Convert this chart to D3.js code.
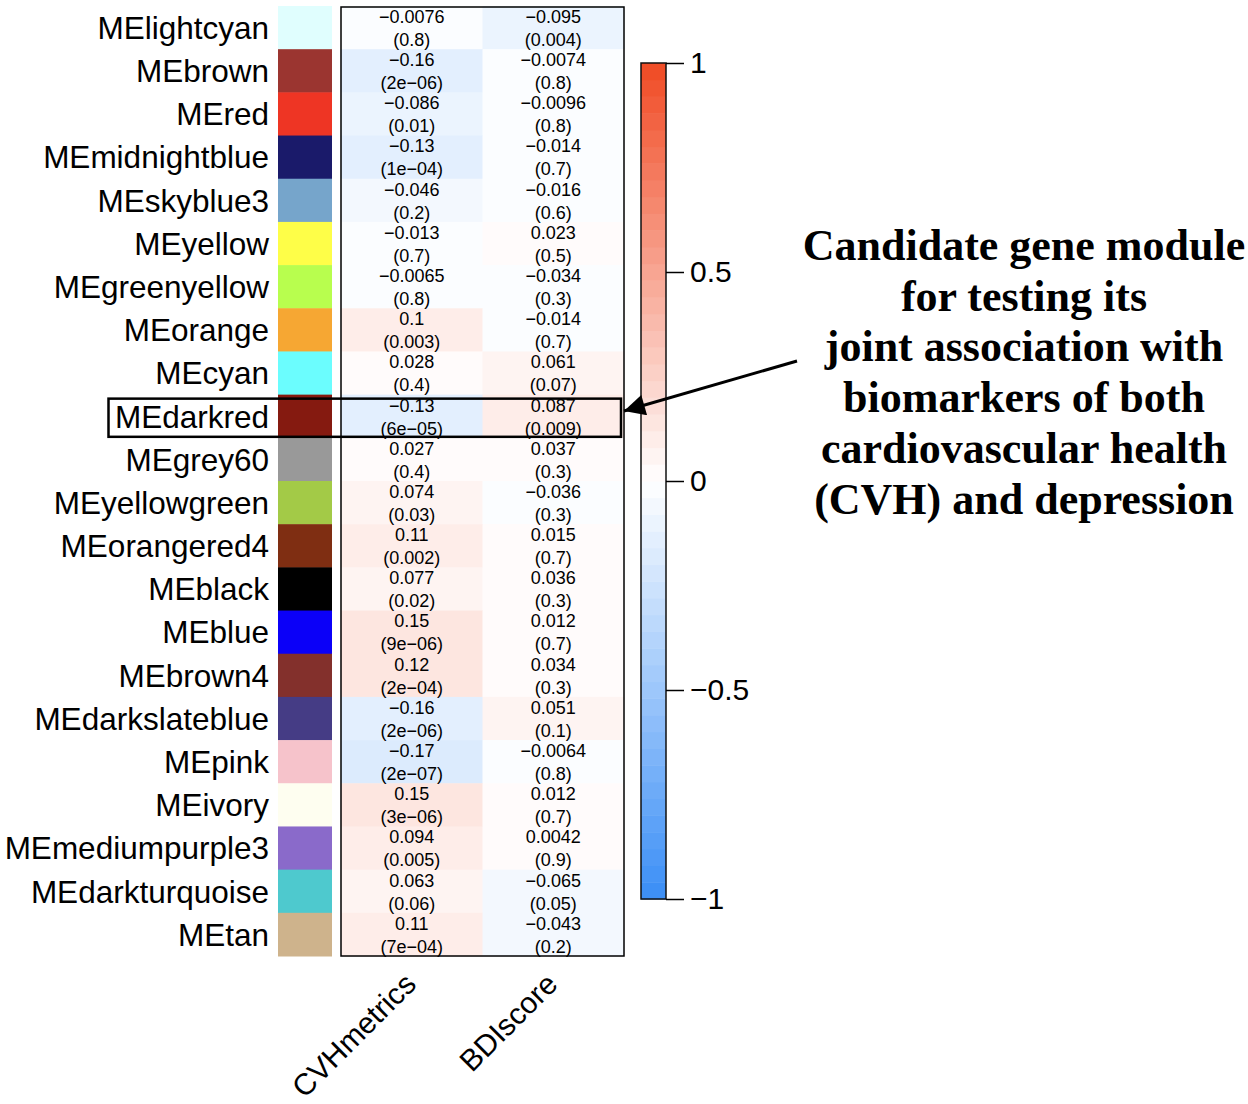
<!DOCTYPE html>
<html>
<head>
<meta charset="utf-8">
<script src="https://cdn.jsdelivr.net/npm/d3@7"></script>
<style>
  body { margin: 0; background: #fff; }
  svg text { font-family: "Liberation Sans", Arial, sans-serif; }
</style>
</head>
<body>
<svg id="drawing_region"></svg>
<script>
// module eigengenes (rows) and their swatch colours
const modules = ["MElightcyan", "MEbrown", "MEred", "MEmidnightblue", "MEskyblue3", "MEyellow",
  "MEgreenyellow", "MEorange", "MEcyan", "MEdarkred", "MEgrey60", "MEyellowgreen", "MEorangered4",
  "MEblack", "MEblue", "MEbrown4", "MEdarkslateblue", "MEpink", "MEivory", "MEmediumpurple3",
  "MEdarkturquoise", "MEtan"];
const moduleColors = ["#e0fefe", "#9b3530", "#ee3524", "#1a1a6a", "#76a5cb", "#fefe48",
  "#b8fe4e", "#f6a733", "#6bfdfe", "#851a10", "#999999", "#a3ca47", "#7f2e12",
  "#000000", "#0b00f8", "#83302c", "#453c85", "#f6c3cb", "#fefef0", "#8a6aca",
  "#4ec9ce", "#ceb38c"];

const traits = ["CVHmetrics", "BDIscore"];

// correlations and p-values per trait
const corCVH = [-0.0076, -0.16, -0.086, -0.13, -0.046, -0.013, -0.0065, 0.1, 0.028, -0.13, 0.027,
  0.074, 0.11, 0.077, 0.15, 0.12, -0.16, -0.17, 0.15, 0.094, 0.063, 0.11];
const pCVH = [0.8, 2e-6, 0.01, 1e-4, 0.2, 0.7, 0.8, 0.003, 0.4, 6e-5, 0.4,
  0.03, 0.002, 0.02, 9e-6, 2e-4, 2e-6, 2e-7, 3e-6, 0.005, 0.06, 7e-4];
const corBDI = [-0.095, -0.0074, -0.0096, -0.014, -0.016, 0.023, -0.034, -0.014, 0.061, 0.087, 0.037,
  -0.036, 0.015, 0.036, 0.012, 0.034, 0.051, -0.0064, 0.012, 0.0042, -0.065, -0.043];
const pBDI = [0.004, 0.8, 0.8, 0.7, 0.6, 0.5, 0.3, 0.7, 0.07, 0.009, 0.3,
  0.3, 0.7, 0.3, 0.7, 0.3, 0.1, 0.8, 0.7, 0.9, 0.05, 0.2];

const colorTicks = [-1, -0.5, 0, 0.5, 1];
const highlighted = "MEdarkred";
const annotationLines = ["Candidate gene module", "for testing its", "joint association with",
  "biomarkers of both", "cardiovascular health", "(CVH) and depression"];

const width = 1248, height = 1104;

const svg = d3.select("#drawing_region")
  .attr("width", width)
  .attr("height", height);

const cells = [];
modules.forEach((m, i) => {
  cells.push({ module: m, trait: traits[0], r: corCVH[i], p: pCVH[i] });
  cells.push({ module: m, trait: traits[1], r: corBDI[i], p: pBDI[i] });
});

const y = d3.scaleBand().domain(modules).range([6, 956]);
const x = d3.scaleBand().domain(traits).range([341, 624]);

// blueWhiteRed with 50 steps
const interp = d3.scaleLinear().domain([-1, 0, 1]).range(["#3a8ef6", "#ffffff", "#f04a24"]);
const nSteps = 50;
const stepVals = d3.range(nSteps).map(k => -1 + (k + 0.5) * 2 / nSteps);
const color = d3.scaleQuantize().domain([-1, 1]).range(stepVals.map(v => interp(v)));

const minus = s => s.replace(/-/g, "\u2212");
const fmtR = v => minus(String(v));
const fmtP = p => {
  if (p >= 0.001) return "(" + String(p) + ")";
  const [mant, ex] = p.toExponential(0).split("e");
  const e = Math.abs(+ex);
  return "(" + mant + "e-" + (e < 10 ? "0" + e : e) + ")";
};

// module swatches
svg.append("g").selectAll("rect")
  .data(modules)
  .join("rect")
  .attr("x", 278)
  .attr("y", d => y(d))
  .attr("width", 54)
  .attr("height", y.bandwidth() + 0.5)
  .attr("fill", (d, i) => moduleColors[i]);

// row labels
svg.append("g").selectAll("text")
  .data(modules)
  .join("text")
  .attr("x", 269)
  .attr("y", d => y(d) + y.bandwidth() / 2)
  .attr("dy", "0.36em")
  .attr("text-anchor", "end")
  .attr("font-size", "31.5px")
  .attr("fill", "#000")
  .text(d => d);

// heatmap cells
svg.append("g").selectAll("rect")
  .data(cells)
  .join("rect")
  .attr("x", d => x(d.trait))
  .attr("y", d => y(d.module))
  .attr("width", x.bandwidth() + 0.5)
  .attr("height", y.bandwidth() + 0.5)
  .attr("fill", d => color(d.r));

const cellText = svg.append("g")
  .attr("font-size", "18px")
  .attr("text-anchor", "middle")
  .attr("fill", "#000");

cellText.selectAll("text.r")
  .data(cells)
  .join("text")
  .attr("class", "r")
  .attr("x", d => x(d.trait) + x.bandwidth() / 2)
  .attr("y", d => y(d.module) + y.bandwidth() / 2 - 11)
  .attr("dy", "0.35em")
  .text(d => fmtR(d.r));

cellText.selectAll("text.p")
  .data(cells)
  .join("text")
  .attr("class", "p")
  .attr("x", d => x(d.trait) + x.bandwidth() / 2)
  .attr("y", d => y(d.module) + y.bandwidth() / 2 + 12)
  .attr("dy", "0.35em")
  .text(d => minus(fmtP(d.p)));

// frame around heatmap
svg.append("rect")
  .attr("x", x.range()[0])
  .attr("y", 7)
  .attr("width", x.range()[1] - x.range()[0])
  .attr("height", 956 - 7)
  .attr("fill", "none")
  .attr("stroke", "#000")
  .attr("stroke-width", 1.5);

// column labels
svg.append("g").selectAll("text")
  .data(traits)
  .join("text")
  .attr("transform", d => `translate(${x(d) + x.bandwidth() / 2 + 6}, 986) rotate(-45)`)
  .attr("text-anchor", "end")
  .attr("font-size", "30px")
  .attr("fill", "#000")
  .text(d => d);

// highlight box around the candidate module
svg.append("rect")
  .attr("x", 108.5)
  .attr("y", y(highlighted) + 4)
  .attr("width", 621 - 108.5)
  .attr("height", y.bandwidth() - 5)
  .attr("fill", "none")
  .attr("stroke", "#000")
  .attr("stroke-width", 2.5);

// colour bar
const cbY = d3.scaleLinear().domain([-1, 1]).range([899, 63]);
const cb = svg.append("g");
cb.selectAll("rect")
  .data(stepVals)
  .join("rect")
  .attr("x", 641)
  .attr("width", 25)
  .attr("y", d => cbY(d + 1 / nSteps))
  .attr("height", cbY(-1) - cbY(-1 + 2 / nSteps) + 0.5)
  .attr("fill", d => color(d));
cb.append("rect")
  .attr("x", 641)
  .attr("y", cbY(1))
  .attr("width", 25)
  .attr("height", cbY(-1) - cbY(1))
  .attr("fill", "none")
  .attr("stroke", "#111")
  .attr("stroke-width", 1.5);

const axis = svg.append("g")
  .attr("transform", "translate(666,0)")
  .call(d3.axisRight(cbY).tickValues(colorTicks).tickSize(18).tickPadding(6)
    .tickFormat(d => minus(String(d))));
axis.select(".domain").remove();
axis.selectAll(".tick line").attr("stroke", "#000").attr("stroke-width", 1.5);
axis.selectAll(".tick text")
  .attr("font-size", "30px")
  .attr("font-family", "Liberation Sans, Arial, sans-serif")
  .attr("fill", "#000");

// annotation
svg.append("defs").append("marker")
  .attr("id", "arrowhead")
  .attr("viewBox", "0 0 10 10")
  .attr("refX", 10)
  .attr("refY", 5)
  .attr("markerWidth", 9)
  .attr("markerHeight", 7)
  .attr("markerUnits", "strokeWidth")
  .attr("orient", "auto")
  .append("path")
  .attr("d", "M0,0 L10,5 L0,10 Z")
  .attr("fill", "#000");

svg.append("line")
  .attr("x1", 797).attr("y1", 361)
  .attr("x2", 624).attr("y2", 411)
  .attr("stroke", "#000")
  .attr("stroke-width", 3)
  .attr("marker-end", "url(#arrowhead)");

svg.append("g").selectAll("text")
  .data(annotationLines)
  .join("text")
  .attr("x", 1024)
  .attr("y", (d, i) => 260 + i * 50.7)
  .attr("text-anchor", "middle")
  .style("font-family", "'Liberation Serif', 'Times New Roman', serif")
  .attr("font-weight", "bold")
  .attr("font-size", "44px")
  .attr("fill", "#000")
  .text(d => d);
</script>
</body>
</html>
